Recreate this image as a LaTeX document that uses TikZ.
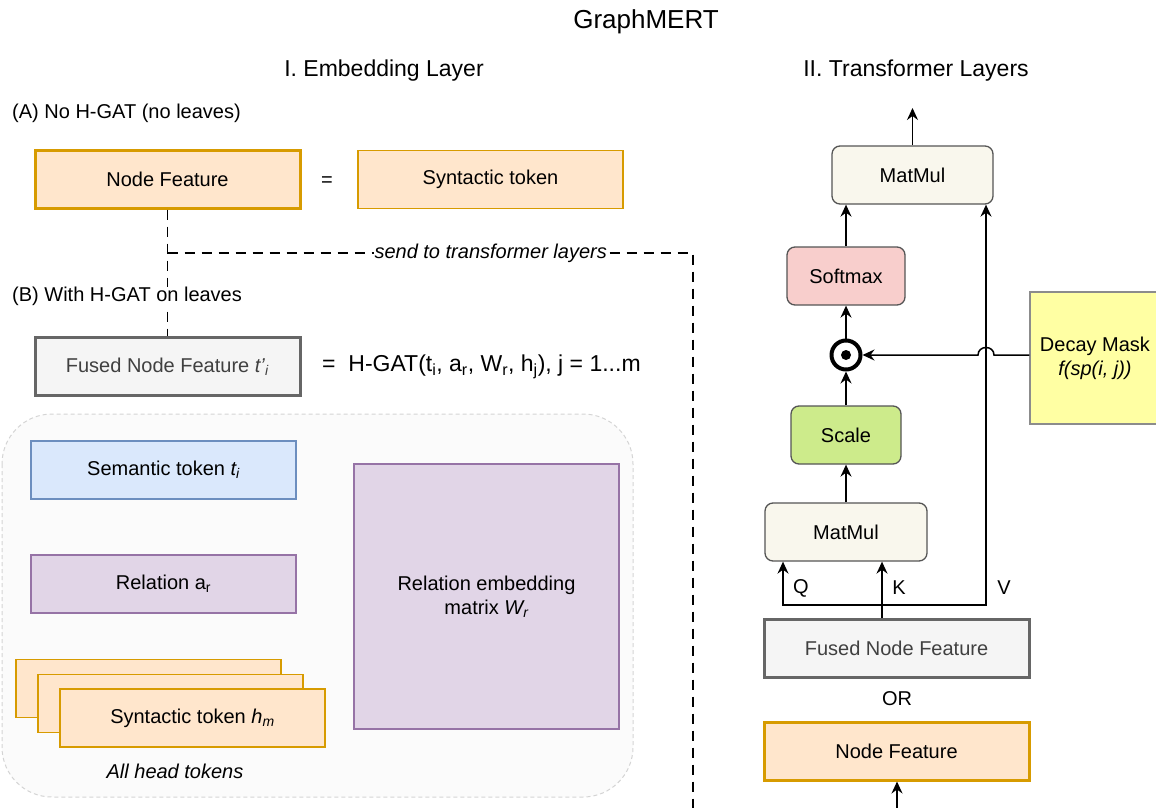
\documentclass[tikz,border=0pt]{standalone}
\usepackage{fontspec}
\setmainfont{Liberation Sans}
\usetikzlibrary{arrows.meta}
\definecolor{featfill}{HTML}{FFE6CC}
\definecolor{featline}{HTML}{D79B00}
\definecolor{fusedfill}{HTML}{F5F5F5}
\definecolor{fusedline}{HTML}{666666}
\definecolor{fusedtext}{HTML}{404040}
\definecolor{semfill}{HTML}{DAE8FC}
\definecolor{semline}{HTML}{6C8EBF}
\definecolor{relfill}{HTML}{E1D5E7}
\definecolor{relline}{HTML}{9673A6}
\definecolor{opfill}{HTML}{F9F7ED}
\definecolor{opline}{HTML}{555555}
\definecolor{softred}{HTML}{F8CECC}
\definecolor{softgreen}{HTML}{CDEB8B}
\definecolor{decayfill}{HTML}{FFFFA3}
\definecolor{decayline}{HTML}{8C8C8C}
\definecolor{areafill}{HTML}{FBFBFB}
\definecolor{arealine}{HTML}{D4D4D4}
\newcommand{\gmfont}{\fontsize{20}{24}\selectfont}
\newcommand{\gmhead}{\fontsize{23}{27}\selectfont}
\tikzset{
  featbox/.style={draw=featline, fill=featfill, line width=1.3pt, minimum width=265pt, minimum height=58pt},
  fusedbox/.style={draw=fusedline, fill=fusedfill, text=fusedtext, line width=3pt, minimum width=265pt, minimum height=58pt},
  opbox/.style={draw=opline, fill=opfill, line width=1.3pt, rounded corners=8pt, minimum height=58pt},
  notetext/.style={anchor=west, inner sep=0pt},
  flow/.style={line width=1.5pt},
  sendline/.style={line width=1.5pt, dash pattern=on 10pt off 7pt},
}

\begin{document}
\begin{tikzpicture}[x=1pt, y=-1pt, every node/.style={font=\gmfont},
  >={Stealth[length=12pt, width=11pt, inset=4pt]}]
\useasboundingbox (0,0) rectangle (1156,808);
\clip (0,0) rectangle (1156,808);

% Titles
\node[font=\fontsize{26}{30}\selectfont] (title) at (646,22) {GraphMERT};
\node[font=\gmhead] (embedtitle) at (384,71) {I. Embedding Layer};
\node[font=\gmhead] (transtitle) at (916,71) {II. Transformer Layers};

% (A) no leaves
\node[notetext] (casea) at (12,113) {(A) No H-GAT (no leaves)};
\node[featbox, line width=3pt] (nofeat) at (167.5,179) {Node Feature};
\node (eqa) at (327,182) {=};
\node[featbox] (syntok) at (490.5,179.5) {Syntactic token};

% (B) with leaves
\node[fusedbox] (fused) at (167.5,366.5) {Fused Node Feature \textit{t'}\textsubscript{\textit{i}}};
\node[notetext, font=\gmhead] (hgat) at (322,367) {=\ \ H-GAT(t\textsubscript{i}, a\textsubscript{r}, W\textsubscript{r}, h\textsubscript{j}), j = 1...m};

% Send to transformer layers
\coordinate (sendturn) at (693,253);
\coordinate (sendend) at (693,808);
\draw[sendline] (nofeat.south) -- (fused.north);
\draw[sendline] (nofeat.south |- sendturn) -- node[pos=0.615, fill=white, inner sep=1pt, font=\gmfont\itshape] (sendlabel) {send to transformer layers} (sendturn) -- (sendend);
\node[notetext, fill=white] (caseb) at (12,296) {(B) With H-GAT on leaves};

% Leaf inputs
\draw[draw=arealine, fill=areafill, line width=1pt, dash pattern=on 4pt off 3pt, rounded corners=50pt] (2,414) rectangle (633,797);
\node[featbox, draw=semline, fill=semfill] (semtok) at (163.5,470) {Semantic token \textit{t\textsubscript{i}}};
\node[featbox, draw=relline, fill=relfill] (reltok) at (163.5,584) {Relation a\textsubscript{r}};
\node[featbox, draw=relline, fill=relfill, minimum height=265pt, align=center] (relmat) at (486.5,596.5) {Relation embedding\\matrix \textit{W\textsubscript{r}}};
\node[featbox] (headback) at (148.5,688.5) {};
\node[featbox] (headmid) at (170.5,703.5) {};
\node[featbox] (headfront) at (192.5,718) {Syntactic token \textit{h\textsubscript{m}}};
\node[font=\gmfont\itshape] (headnote) at (175,771) {All head tokens};

% Attention block
\node[opbox, minimum width=161pt] (matmultop) at (912.5,175) {MatMul};
\node[opbox, fill=softred, minimum width=118pt] (softmax) at (846,276) {Softmax};
\node[circle, draw, line width=4pt, minimum size=29pt, inner sep=0pt] (dotmask) at (846,355) {};
\fill (dotmask.center) circle (5pt);
\node[opbox, fill=softgreen, minimum width=110pt] (scale) at (846,435) {Scale};
\node[opbox, minimum width=162pt] (matmulbot) at (846,532) {MatMul};
\node[fusedbox] (fusedR) at (896.5,648.5) {Fused Node Feature};
\node (orlabel) at (897,699) {OR};
\node[featbox, line width=3pt] (nodefeat) at (896.5,751) {Node Feature};
\node[draw=decayline, fill=decayfill, line width=1.3pt, minimum width=130pt, minimum height=132pt, align=center] (decay) at (1095,358) {Decay Mask\\\textit{f(sp(i, j))}};

% Arrows
\coordinate (outtop) at (912.5,108);
\draw[flow, ->] (matmultop.north) -- (outtop);
\draw[flow, ->] (softmax.north) -- (softmax.north |- matmultop.south);
\draw[flow, ->] (dotmask) -- (softmax);
\draw[flow, ->] (scale) -- (dotmask);
\draw[flow, ->] (matmulbot) -- (scale);

% Q, K, V
\coordinate (kfork) at (882,605);
\coordinate (qfoot) at (783,605);
\coordinate (vfoot) at (986,605);
\draw[flow] (fusedR.north -| kfork) -- (kfork);
\draw[flow, ->] (kfork) -- (matmulbot.south -| kfork);
\draw[flow, ->] (kfork) -- (qfoot) -- (qfoot |- matmulbot.south);
\draw[flow, ->] (kfork) -- (vfoot) -- (vfoot |- matmultop.south);
\node (qlabel) at (801,588) {Q};
\node (klabel) at (899,588) {K};
\node (vlabel) at (1004,588) {V};

% Decay mask into the product
\coordinate (hopright) at (994,355);
\coordinate (hopleft) at (978,355);
\draw[flow, ->] (dotmask -| decay.west) -- (hopright) .. controls (994,345) and (978,345) .. (hopleft) -- (dotmask.east);

% Input
\coordinate (featin) at (897,808);
\draw[flow, ->] (featin) -- (nodefeat.south -| featin);
\end{tikzpicture}
\end{document}
